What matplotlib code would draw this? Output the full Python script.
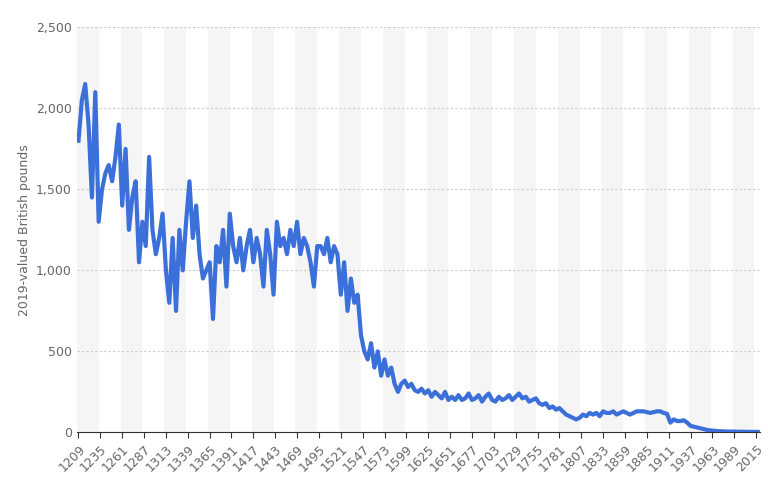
import matplotlib.pyplot as plt
import numpy as np

# sampled every 4 years from 1209
years = list(range(1209, 2018, 4))
values = [
    1800, 2050, 2150, 1900, 1450, 2100, 1300, 1500,
    1600, 1650, 1550, 1700, 1900, 1400, 1750, 1250, 1450, 1550,
    1050, 1300, 1150, 1700, 1250, 1100, 1200, 1350, 1000, 800,
    1200, 750, 1250, 1000, 1300, 1550, 1200, 1400, 1100, 950,
    1000, 1050, 700, 1150, 1050, 1250, 900, 1350, 1150, 1050,
    1200, 1000, 1150, 1250, 1050, 1200, 1100, 900, 1250, 1100,
    850, 1300, 1150, 1200, 1100, 1250, 1150, 1300, 1100, 1200,
    1150, 1050, 900, 1150, 1150, 1100, 1200, 1050, 1150, 1100,
    850, 1050, 750, 950, 800, 850, 600, 500, 450, 550,
    400, 500, 350, 450, 350, 400, 300, 250, 300, 320,
    280, 300, 260, 250, 270, 240, 260, 220, 250, 230,
    210, 250, 200, 220, 200, 230, 200, 210, 240, 200,
    210, 230, 190, 220, 240, 200, 190, 220, 200, 210,
    230, 200, 220, 240, 210, 220, 190, 200, 210, 180,
    170, 180, 150, 160, 140, 150, 130, 110, 100, 90,
    80, 90, 110, 100, 120, 110, 120, 100, 130, 120,
    120, 130, 110, 120, 130, 120, 110, 120, 130, 130,
    130, 125, 120, 125, 130, 130, 120, 115, 60, 80,
    70, 70, 75, 60, 40, 35, 30, 25, 20, 15,
    12, 10, 8, 7, 6, 5, 5, 5, 4, 4,
    4, 3, 3, 3, 3,
]
tick_years = list(range(1209, 2016, 26))

fig, ax = plt.subplots(figsize=(7.68, 4.97), dpi=100)
fig.subplots_adjust(left=0.1, right=0.99, top=0.945, bottom=0.13)

# alternating background stripes, 26 years wide
for start in range(1209, 2020, 52):
    ax.axvspan(start - 2, start + 24, color='#f5f5f5', zorder=0, lw=0)

ax.plot(years, values, color='#3b6fd9', lw=3, zorder=3, solid_joinstyle='round')

ax.set_xlim(1207, 2020)
ax.set_ylim(0, 2500)
ax.set_yticks(range(0, 2501, 500))
ax.set_yticklabels([f'{v:,}' for v in range(0, 2501, 500)])
ax.set_xticks(tick_years)
ax.set_xticklabels([str(y) for y in tick_years], rotation=45, ha='right', rotation_mode='anchor')
ax.yaxis.grid(True, color='#cccccc', ls=(0, (2, 2)), lw=0.8)
ax.set_axisbelow(True)
for s in ['top', 'right', 'left']:
    ax.spines[s].set_visible(False)
ax.spines['bottom'].set_color('#333333')
ax.tick_params(axis='both', colors='#666666', labelsize=9, length=0)
ax.tick_params(axis='x', length=4, color='#333333')
ax.set_ylabel('2019-valued British pounds', color='#666666', fontsize=9)

plt.savefig('out.png')
